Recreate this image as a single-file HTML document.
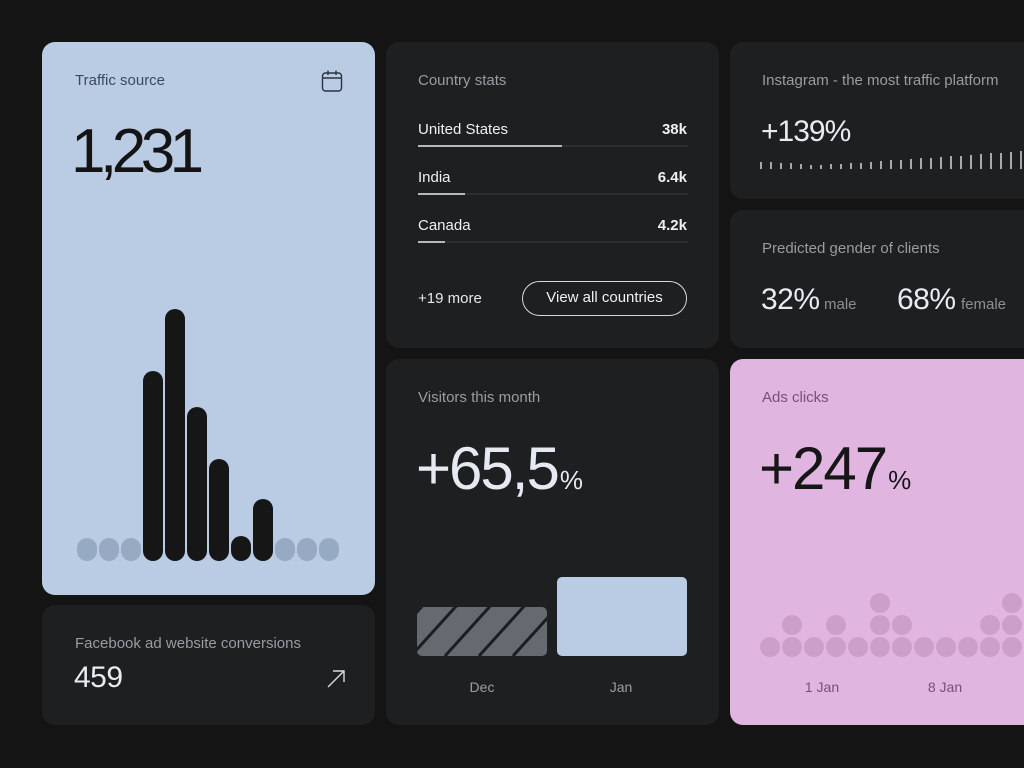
<!DOCTYPE html>
<html><head><meta charset="utf-8"><style>
*{margin:0;padding:0;box-sizing:border-box}
html,body{width:1024px;height:768px;overflow:hidden;background:#141414;font-family:"Liberation Sans",sans-serif}
.c{position:absolute;border-radius:13px;background:#1e1f21;overflow:hidden}
.t{position:absolute;white-space:nowrap;line-height:1}
.tt{font-size:15px;color:#989ca3}
.ab{position:absolute}
</style></head><body>

<!-- Traffic source -->
<div class="c" style="left:42px;top:42px;width:333px;height:553px;background:#b9cce4"></div>
<div class="t tt" style="left:75px;top:73px;color:#3d4a5c">Traffic source</div>
<svg class="ab" style="left:320px;top:69px" width="24" height="25" viewBox="0 0 24 25">
<rect x="2.5" y="4" width="19" height="18" rx="3" fill="none" stroke="#2a3340" stroke-width="1.4"/>
<line x1="2.5" y1="9" x2="21.5" y2="9" stroke="#2a3340" stroke-width="1.4"/>
<line x1="8" y1="1.5" x2="8" y2="6" stroke="#2a3340" stroke-width="1.4"/>
<line x1="16" y1="1.5" x2="16" y2="6" stroke="#2a3340" stroke-width="1.4"/>
</svg>
<div class="t" style="left:71px;top:121px;font-size:62px;letter-spacing:-5.5px;color:#141414">1,231</div>
<svg class="ab" style="left:0;top:0" width="380" height="600">
<g fill="#97aac4">
<rect x="77" y="538" width="20" height="23" rx="10"/>
<rect x="99" y="538" width="20" height="23" rx="10"/>
<rect x="121" y="538" width="20" height="23" rx="10"/>
<rect x="275" y="538" width="20" height="23" rx="10"/>
<rect x="297" y="538" width="20" height="23" rx="10"/>
<rect x="319" y="538" width="20" height="23" rx="10"/>
</g>
<g fill="#161616">
<rect x="143" y="371" width="20" height="190" rx="10"/>
<rect x="165" y="309" width="20" height="252" rx="10"/>
<rect x="187" y="407" width="20" height="154" rx="10"/>
<rect x="209" y="459" width="20" height="102" rx="10"/>
<rect x="231" y="536" width="20" height="25" rx="10"/>
<rect x="253" y="499" width="20" height="62" rx="10"/>
</g>
</svg>

<!-- Facebook -->
<div class="c" style="left:42px;top:605px;width:333px;height:120px"></div>
<div class="t tt" style="left:75px;top:636px">Facebook ad website conversions</div>
<div class="t" style="left:74px;top:663px;font-size:30px;color:#e8ecf2;letter-spacing:-0.5px">459</div>
<svg class="ab" style="left:325px;top:668px" width="22" height="22" viewBox="0 0 22 22">
<path d="M3 19 L19 3 M8 3 H19 V14" fill="none" stroke="#d8dce2" stroke-width="1.4"/>
</svg>

<!-- Country stats -->
<div class="c" style="left:386px;top:42px;width:333px;height:306px"></div>
<div class="t tt" style="left:418px;top:73px">Country stats</div>
<div class="t" style="left:418px;top:122px;font-size:15px;color:#eef0f3">United States</div>
<div class="t" style="left:600px;width:87px;text-align:right;top:122px;font-size:15px;font-weight:bold;color:#eef0f3">38k</div>
<div class="ab" style="left:418px;top:145px;width:270px;height:2px;background:#2d2e31"></div>
<div class="ab" style="left:418px;top:145px;width:144px;height:2px;background:#b5b7bb"></div>
<div class="t" style="left:418px;top:170px;font-size:15px;color:#eef0f3">India</div>
<div class="t" style="left:600px;width:87px;text-align:right;top:170px;font-size:15px;font-weight:bold;color:#eef0f3">6.4k</div>
<div class="ab" style="left:418px;top:193px;width:270px;height:2px;background:#2d2e31"></div>
<div class="ab" style="left:418px;top:193px;width:47px;height:2px;background:#b5b7bb"></div>
<div class="t" style="left:418px;top:218px;font-size:15px;color:#eef0f3">Canada</div>
<div class="t" style="left:600px;width:87px;text-align:right;top:218px;font-size:15px;font-weight:bold;color:#eef0f3">4.2k</div>
<div class="ab" style="left:418px;top:241px;width:270px;height:2px;background:#2d2e31"></div>
<div class="ab" style="left:418px;top:241px;width:27px;height:2px;background:#b5b7bb"></div>
<div class="t" style="left:418px;top:291px;font-size:15px;color:#e6e8ec">+19 more</div>
<div class="ab" style="left:522px;top:281px;width:165px;height:35px;border:1.5px solid #d6d8dc;border-radius:18px;color:#eef0f3;font-size:15px;line-height:32px;text-align:center">View all countries</div>

<!-- Visitors -->
<div class="c" style="left:386px;top:359px;width:333px;height:366px"></div>
<div class="t tt" style="left:418px;top:390px">Visitors this month</div>
<div class="t" style="left:416px;top:439px;font-size:60px;letter-spacing:-2px;color:#e4e9f2">+65,5<span style="font-size:26px;letter-spacing:0;margin-left:2px">%</span></div>
<svg class="ab" style="left:417px;top:577px" width="272" height="80">
<defs>
<clipPath id="cp"><rect x="0" y="30" width="130" height="49" rx="5"/></clipPath>
</defs>
<rect x="0" y="30" width="130" height="49" rx="5" fill="#656970"/>
<g clip-path="url(#cp)" stroke="#1c1d1f" stroke-width="3">
<line x1="-40" y1="79" x2="8" y2="26"/>
<line x1="-6" y1="79" x2="42" y2="26"/>
<line x1="28" y1="79" x2="76" y2="26"/>
<line x1="62" y1="79" x2="110" y2="26"/>
<line x1="96" y1="79" x2="144" y2="26"/>
<line x1="130" y1="79" x2="178" y2="26"/>
</g>
<rect x="140" y="0" width="130" height="79" rx="5" fill="#b9cce4"/>
</svg>
<div class="t" style="left:452px;width:60px;text-align:center;top:680px;font-size:14px;color:#9a9ea5">Dec</div>
<div class="t" style="left:591px;width:60px;text-align:center;top:680px;font-size:14px;color:#9a9ea5">Jan</div>

<!-- Instagram -->
<div class="c" style="left:730px;top:42px;width:320px;height:157px"></div>
<div class="t tt" style="left:762px;top:73px">Instagram - the most traffic platform</div>
<div class="t" style="left:761px;top:117px;font-size:30px;letter-spacing:-1px;color:#e8ecf2">+139%</div>
<svg class="ab" style="left:755px;top:148px" width="269" height="24">
<g stroke="#c9ccd1" stroke-width="1.6">
<line x1="6" y1="21" x2="6" y2="14"/>
<line x1="16" y1="21" x2="16" y2="14"/>
<line x1="26" y1="21" x2="26" y2="15"/>
<line x1="36" y1="21" x2="36" y2="15"/>
<line x1="46" y1="21" x2="46" y2="16"/>
<line x1="56" y1="21" x2="56" y2="17"/>
<line x1="66" y1="21" x2="66" y2="17"/>
<line x1="76" y1="21" x2="76" y2="16"/>
<line x1="86" y1="21" x2="86" y2="16"/>
<line x1="96" y1="21" x2="96" y2="15"/>
<line x1="106" y1="21" x2="106" y2="15"/>
<line x1="116" y1="21" x2="116" y2="14"/>
<line x1="126" y1="21" x2="126" y2="13"/>
<line x1="136" y1="21" x2="136" y2="12"/>
<line x1="146" y1="21" x2="146" y2="12"/>
<line x1="156" y1="21" x2="156" y2="11"/>
<line x1="166" y1="21" x2="166" y2="10"/>
<line x1="176" y1="21" x2="176" y2="10"/>
<line x1="186" y1="21" x2="186" y2="9"/>
<line x1="196" y1="21" x2="196" y2="8"/>
<line x1="206" y1="21" x2="206" y2="8"/>
<line x1="216" y1="21" x2="216" y2="7"/>
<line x1="226" y1="21" x2="226" y2="6"/>
<line x1="236" y1="21" x2="236" y2="5"/>
<line x1="246" y1="21" x2="246" y2="5"/>
<line x1="256" y1="21" x2="256" y2="4"/>
<line x1="266" y1="21" x2="266" y2="3"/>
</g>
</svg>

<!-- Gender -->
<div class="c" style="left:730px;top:210px;width:320px;height:138px"></div>
<div class="t tt" style="left:762px;top:241px">Predicted gender of clients</div>
<div class="t" style="left:761px;top:285px;font-size:30px;letter-spacing:-0.5px;color:#e8ecf2">32%</div>
<div class="t" style="left:824px;top:297px;font-size:15px;color:#8c9096">male</div>
<div class="t" style="left:897px;top:285px;font-size:30px;letter-spacing:-0.5px;color:#e8ecf2">68%</div>
<div class="t" style="left:961px;top:297px;font-size:15px;color:#8c9096">female</div>

<!-- Ads clicks -->
<div class="c" style="left:730px;top:359px;width:320px;height:366px;background:#e0b5df"></div>
<div class="t tt" style="left:762px;top:390px;color:#7a4f78">Ads clicks</div>
<div class="t" style="left:759px;top:439px;font-size:60px;letter-spacing:-2px;color:#161616">+247<span style="font-size:26px;letter-spacing:0;margin-left:2px">%</span></div>
<svg class="ab" style="left:730px;top:580px" width="294" height="90">
<g fill="#cb9fc9">
<circle cx="40" cy="67" r="10"/>
<circle cx="62" cy="67" r="10"/><circle cx="62" cy="45" r="10"/>
<circle cx="84" cy="67" r="10"/>
<circle cx="106" cy="67" r="10"/><circle cx="106" cy="45" r="10"/>
<circle cx="128" cy="67" r="10"/>
<circle cx="150" cy="67" r="10"/><circle cx="150" cy="45" r="10"/><circle cx="150" cy="23" r="10"/>
<circle cx="172" cy="67" r="10"/><circle cx="172" cy="45" r="10"/>
<circle cx="194" cy="67" r="10"/>
<circle cx="216" cy="67" r="10"/>
<circle cx="238" cy="67" r="10"/>
<circle cx="260" cy="67" r="10"/><circle cx="260" cy="45" r="10"/>
<circle cx="282" cy="67" r="10"/><circle cx="282" cy="45" r="10"/><circle cx="282" cy="23" r="10"/>
</g>
</svg>
<div class="t" style="left:792px;width:60px;text-align:center;top:680px;font-size:14px;color:#7a4f78">1 Jan</div>
<div class="t" style="left:915px;width:60px;text-align:center;top:680px;font-size:14px;color:#7a4f78">8 Jan</div>

</body></html>
